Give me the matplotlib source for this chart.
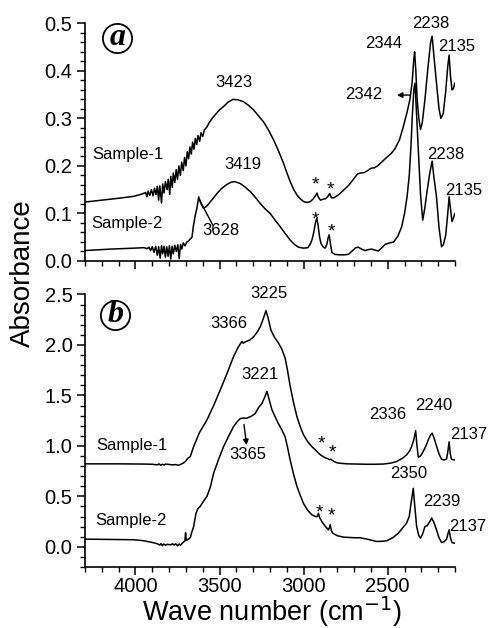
import matplotlib
matplotlib.use("Agg")
import matplotlib.pyplot as plt
from matplotlib.ticker import MultipleLocator, FormatStrFormatter

plt.rcParams['font.family'] = ['Liberation Sans', 'DejaVu Sans']

# ---------------- data ----------------
# Panel (a)
a1_wn = [4300, 4200, 4100, 4010, 3960, 3940, 3932, 3925, 3915, 3905, 3895, 3887, 3878, 3870, 3862, 3855, 3845,
         3838, 3830, 3822, 3812, 3805, 3796, 3790, 3781, 3775, 3766, 3758, 3750, 3742, 3733, 3725, 3716, 3708,
         3700, 3692, 3684, 3676, 3668, 3660, 3652, 3644, 3636, 3628, 3618, 3610, 3600, 3590, 3575, 3560, 3535,
         3500, 3476, 3450, 3420, 3390, 3357, 3330, 3298, 3270, 3239, 3210, 3179, 3150, 3120, 3100, 3080, 3060,
         3040, 3020, 3000, 2980, 2960, 2945, 2930, 2921, 2912, 2900, 2885, 2870, 2855, 2845, 2835, 2820, 2790,
         2763, 2730, 2704, 2680, 2664, 2640, 2620, 2600, 2580, 2560, 2530, 2506, 2480, 2457, 2430, 2407, 2385,
         2368, 2355, 2345, 2340, 2333, 2325, 2315, 2305, 2295, 2279, 2260, 2245, 2236, 2225, 2210, 2195, 2184,
         2170, 2155, 2143, 2135, 2127, 2118, 2110, 2101]
a1_abs = [0.124, 0.128, 0.132, 0.136, 0.141, 0.144, 0.135, 0.147, 0.138, 0.150, 0.137, 0.153, 0.140, 0.157, 0.128,
          0.158, 0.122, 0.162, 0.143, 0.167, 0.150, 0.172, 0.140, 0.178, 0.155, 0.185, 0.165, 0.192, 0.172, 0.200,
          0.180, 0.208, 0.190, 0.218, 0.200, 0.230, 0.215, 0.240, 0.225, 0.250, 0.235, 0.258, 0.245, 0.264, 0.252,
          0.270, 0.262, 0.276, 0.282, 0.292, 0.304, 0.318, 0.325, 0.334, 0.340, 0.339, 0.335, 0.328, 0.318, 0.306,
          0.293, 0.276, 0.255, 0.232, 0.206, 0.186, 0.167, 0.151, 0.139, 0.131, 0.125, 0.123, 0.125, 0.130, 0.137,
          0.143, 0.134, 0.128, 0.130, 0.131, 0.136, 0.142, 0.133, 0.133, 0.140, 0.149, 0.160, 0.172, 0.183, 0.185,
          0.186, 0.190, 0.195, 0.196, 0.200, 0.210, 0.218, 0.226, 0.236, 0.255, 0.283, 0.313, 0.340, 0.375, 0.425,
          0.440, 0.400, 0.339, 0.300, 0.277, 0.290, 0.339, 0.410, 0.460, 0.473, 0.430, 0.374, 0.320, 0.300, 0.310,
          0.358, 0.410, 0.433, 0.390, 0.360, 0.362, 0.374]

a2_wn = [4300, 4150, 4010, 3950, 3930, 3920, 3910, 3900, 3890, 3880, 3870, 3862, 3853, 3845, 3838, 3830, 3822,
         3814, 3806, 3798, 3790, 3782, 3775, 3766, 3757, 3748, 3740, 3732, 3724, 3716, 3705, 3695, 3685, 3675,
         3664, 3655, 3645, 3634, 3624, 3615, 3605, 3595, 3580, 3565, 3540, 3515, 3490, 3456, 3430, 3410, 3377,
         3350, 3317, 3290, 3258, 3230, 3199, 3170, 3139, 3110, 3080, 3055, 3031, 3000, 2975, 2960, 2950, 2940,
         2930, 2922, 2914, 2905, 2897, 2885, 2872, 2862, 2855, 2848, 2840, 2832, 2815, 2790, 2760, 2734, 2715,
         2690, 2675, 2655, 2635, 2615, 2595, 2575, 2556, 2535, 2515, 2490, 2465, 2440, 2417, 2400, 2385, 2372,
         2362, 2354, 2345, 2338, 2330, 2318, 2305, 2292, 2280, 2268, 2250, 2236, 2225, 2210, 2195, 2180, 2168,
         2155, 2143, 2135, 2127, 2118, 2110, 2101]
a2_abs = [0.022, 0.025, 0.027, 0.028, 0.026, 0.029, 0.022, 0.030, 0.018, 0.031, 0.012, 0.030, 0.006, 0.032, 0.015,
          0.031, 0.008, 0.030, 0.010, 0.032, 0.004, 0.031, 0.015, 0.033, 0.020, 0.034, 0.005, 0.035, 0.025, 0.038,
          0.032, 0.040, 0.042, 0.046, 0.050, 0.075, 0.095, 0.112, 0.135, 0.125, 0.117, 0.111, 0.114, 0.120, 0.131,
          0.142, 0.152, 0.161, 0.166, 0.167, 0.163, 0.156, 0.146, 0.135, 0.121, 0.110, 0.100, 0.086, 0.072, 0.058,
          0.044, 0.035, 0.029, 0.027, 0.028, 0.036, 0.045, 0.060, 0.080, 0.090, 0.075, 0.050, 0.037, 0.030, 0.027,
          0.035, 0.048, 0.055, 0.035, 0.018, 0.014, 0.013, 0.013, 0.014, 0.020, 0.028, 0.029, 0.025, 0.022, 0.024,
          0.025, 0.023, 0.021, 0.028, 0.035, 0.038, 0.040, 0.052, 0.072, 0.100, 0.135, 0.180, 0.240, 0.304, 0.360,
          0.374, 0.320, 0.233, 0.140, 0.086, 0.110, 0.142, 0.185, 0.210, 0.175, 0.135, 0.070, 0.030, 0.035, 0.055,
          0.100, 0.135, 0.110, 0.083, 0.090, 0.100]

# Panel (b)
b1_wn = [4300, 4100, 3950, 3900, 3870, 3860, 3850, 3840, 3830, 3820, 3800, 3780, 3760, 3745, 3733, 3715, 3700,
         3690, 3674, 3654, 3620, 3575, 3535, 3496, 3455, 3417, 3390, 3373, 3366, 3360, 3347, 3320, 3298, 3275,
         3258, 3240, 3224, 3210, 3195, 3175, 3150, 3130, 3110, 3095, 3080, 3060, 3040, 3020, 3001, 2975, 2951,
         2930, 2912, 2895, 2875, 2855, 2845, 2838, 2820, 2800, 2783, 2740, 2684, 2620, 2580, 2526, 2480, 2447,
         2410, 2388, 2370, 2358, 2345, 2334, 2326, 2318, 2305, 2289, 2270, 2259, 2245, 2236, 2225, 2210, 2195,
         2180, 2165, 2150, 2142, 2135, 2128, 2121, 2110, 2101]
b1_abs = [0.822, 0.822, 0.820, 0.818, 0.812, 0.822, 0.808, 0.818, 0.810, 0.820, 0.816, 0.812, 0.815, 0.808, 0.815,
          0.830, 0.850, 0.875, 0.894, 0.993, 1.130, 1.257, 1.400, 1.554, 1.720, 1.884, 1.975, 2.020, 2.035, 2.018,
          2.030, 2.050, 2.080, 2.130, 2.180, 2.260, 2.340, 2.260, 2.150, 2.080, 2.020, 1.960, 1.870, 1.740, 1.590,
          1.430, 1.290, 1.190, 1.110, 1.040, 0.993, 0.960, 0.928, 0.905, 0.885, 0.872, 0.862, 0.868, 0.845, 0.832,
          0.828, 0.822, 0.820, 0.818, 0.818, 0.820, 0.830, 0.845, 0.880, 0.911, 0.950, 0.993, 1.060, 1.150, 1.000,
          0.888, 0.900, 0.944, 1.010, 1.060, 1.110, 1.126, 1.080, 1.000, 0.920, 0.868, 0.860, 0.870, 0.950, 1.040,
          0.920, 0.868, 0.862, 0.860]

b2_wn = [4300, 4100, 4010, 3950, 3891, 3870, 3855, 3848, 3840, 3832, 3820, 3812, 3800, 3790, 3780, 3770, 3760,
         3750, 3740, 3733, 3722, 3712, 3706, 3702, 3698, 3688, 3674, 3664, 3654, 3640, 3628, 3615, 3600, 3575,
         3555, 3535, 3505, 3476, 3445, 3417, 3395, 3377, 3360, 3337, 3310, 3288, 3268, 3248, 3232, 3218, 3205,
         3189, 3170, 3150, 3130, 3110, 3095, 3080, 3060, 3040, 3020, 3001, 2975, 2951, 2930, 2918, 2912, 2905,
         2892, 2870, 2852, 2845, 2842, 2835, 2827, 2800, 2763, 2700, 2664, 2620, 2566, 2530, 2506, 2470, 2437,
         2410, 2388, 2372, 2364, 2355, 2348, 2340, 2328, 2315, 2305, 2292, 2279, 2265, 2250, 2238, 2225, 2210,
         2195, 2180, 2165, 2150, 2142, 2135, 2127, 2118, 2110, 2101]
b2_abs = [0.076, 0.072, 0.070, 0.060, 0.040, 0.030, 0.018, 0.032, 0.010, 0.028, 0.015, 0.025, 0.022, 0.020, 0.030,
          0.018, 0.030, 0.010, 0.028, 0.015, 0.035, 0.050, 0.060, 0.140, 0.065, 0.072, 0.090, 0.150, 0.200, 0.333,
          0.380, 0.400, 0.440, 0.500, 0.590, 0.730, 0.870, 0.993, 1.100, 1.190, 1.240, 1.270, 1.275, 1.275, 1.295,
          1.320, 1.380, 1.420, 1.480, 1.540, 1.460, 1.360, 1.290, 1.220, 1.160, 1.090, 0.980, 0.860, 0.720, 0.600,
          0.510, 0.430, 0.360, 0.317, 0.300, 0.300, 0.333, 0.290, 0.250, 0.200, 0.168, 0.200, 0.218, 0.160, 0.135,
          0.110, 0.096, 0.090, 0.090, 0.075, 0.053, 0.055, 0.060, 0.090, 0.135, 0.190, 0.235, 0.300, 0.400, 0.500,
          0.580, 0.420, 0.200, 0.110, 0.086, 0.130, 0.200, 0.210, 0.250, 0.284, 0.240, 0.168, 0.090, 0.043, 0.050,
          0.075, 0.130, 0.168, 0.090, 0.043, 0.038, 0.036]

# annotations: (text, wavenumber, absorbance)
a_labels = [("3423", 3417, 0.375), ("Sample-1", 4042, 0.223), ("3419", 3359, 0.204),
            ("Sample-2", 4048, 0.078), ("3628", 3491, 0.064), ("2344", 2526, 0.458),
            ("2238", 2245, 0.500), ("2135", 2087, 0.451), ("2342", 2641, 0.351),
            ("2238", 2154, 0.225), ("2135", 2051, 0.148)]
a_stars = [(2932, 0.160), (2842, 0.149), (2932, 0.086), (2832, 0.062)]
b_labels = [("3225", 3209, 2.51), ("3366", 3446, 2.21), ("3221", 3258, 1.71),
            ("Sample-1", 4020, 1.00), ("3365", 3333, 0.91), ("2336", 2502, 1.31),
            ("2240", 2225, 1.40), ("2137", 2016, 1.11), ("Sample-2", 4024, 0.26),
            ("2350", 2378, 0.73), ("2239", 2180, 0.45), ("2137", 2022, 0.20)]
b_stars = [(2892, 1.02), (2829, 0.93), (2908, 0.34), (2832, 0.31)]

# ---------------- figure ----------------
W, H = 491, 628
fig = plt.figure(figsize=(W / 100, H / 100), dpi=100)
axA = fig.add_axes([85 / W, 1 - 261 / H, 370 / W, (261 - 23.3) / H])
axB = fig.add_axes([85 / W, 1 - 567 / H, 370 / W, (567 - 294.5) / H], sharex=axA)

lw = 1.1
axA.plot(a1_wn, a1_abs, color='black', lw=lw)
axA.plot(a2_wn, a2_abs, color='black', lw=lw)
axB.plot(b1_wn, b1_abs, color='black', lw=lw)
axB.plot(b2_wn, b2_abs, color='black', lw=lw)

axA.set_xlim(4300, 2100)
axA.set_ylim(0, 0.5)
axB.set_ylim(-0.2, 2.5)

for ax in (axA, axB):
    for s in ('top', 'right'):
        ax.spines[s].set_visible(False)
    for s in ('left', 'bottom'):
        ax.spines[s].set_linewidth(1.2)
    ax.xaxis.set_major_locator(MultipleLocator(500))
    ax.xaxis.set_minor_locator(MultipleLocator(100))
    ax.tick_params(which='major', direction='out', length=6, width=1.1, pad=3)
    ax.tick_params(which='minor', direction='out', length=3.5, width=1.0)
    ax.tick_params(axis='y', labelsize=14.5)
    ax.tick_params(axis='x', labelsize=14.5, pad=1.5)
    ax.yaxis.set_major_formatter(FormatStrFormatter('%.1f'))

axA.yaxis.set_major_locator(MultipleLocator(0.1))
axA.yaxis.set_minor_locator(MultipleLocator(0.02))
axB.yaxis.set_major_locator(MultipleLocator(0.5))
axB.yaxis.set_minor_locator(MultipleLocator(0.1))
axA.tick_params(axis='x', labelbottom=False)

fs = 12
for t, x, y in a_labels:
    axA.text(x, y, t, fontsize=fs, ha='center', va='center', clip_on=False)
for x, y in a_stars:
    axA.text(x, y, "*", fontsize=fs + 2, ha='center', va='center')
for t, x, y in b_labels:
    axB.text(x, y, t, fontsize=fs, ha='center', va='center', clip_on=False)
for x, y in b_stars:
    axB.text(x, y, "*", fontsize=fs + 2, ha='center', va='center')

# leader lines / arrows
axA.plot([3624, 3541], [0.132, 0.076], color='black', lw=1.0)
axA.annotate("", xy=(2462, 0.349), xytext=(2350, 0.349),
             arrowprops=dict(arrowstyle='-|>', color='black', lw=1.0, mutation_scale=8))
axB.annotate("", xy=(3337, 0.98), xytext=(3357, 1.24),
             arrowprops=dict(arrowstyle='-|>', color='black', lw=1.0, mutation_scale=8))

# circled panel letters
for ax, letter, x, y in ((axA, 'a', 4107, 0.470), (axB, 'b', 4119, 2.30)):
    ax.plot([x], [y], marker='o', ms=21, mfc='white', mec='black', mew=1.3, clip_on=False)
    ax.text(x, y, letter, fontsize=23, ha='center', va='center', fontweight='bold',
            fontstyle='italic', family=['Liberation Serif', 'DejaVu Serif'])

fig.text(23 / W, 1 - 273 / H, "Absorbance", rotation=90, fontsize=20, ha='center', va='center')
fig.text(272 / W, 1 - 621 / H, "Wave number (cm$^{-1}$)", fontsize=19.5, ha='center', va='baseline')

fig.savefig("out.png", dpi=100)
